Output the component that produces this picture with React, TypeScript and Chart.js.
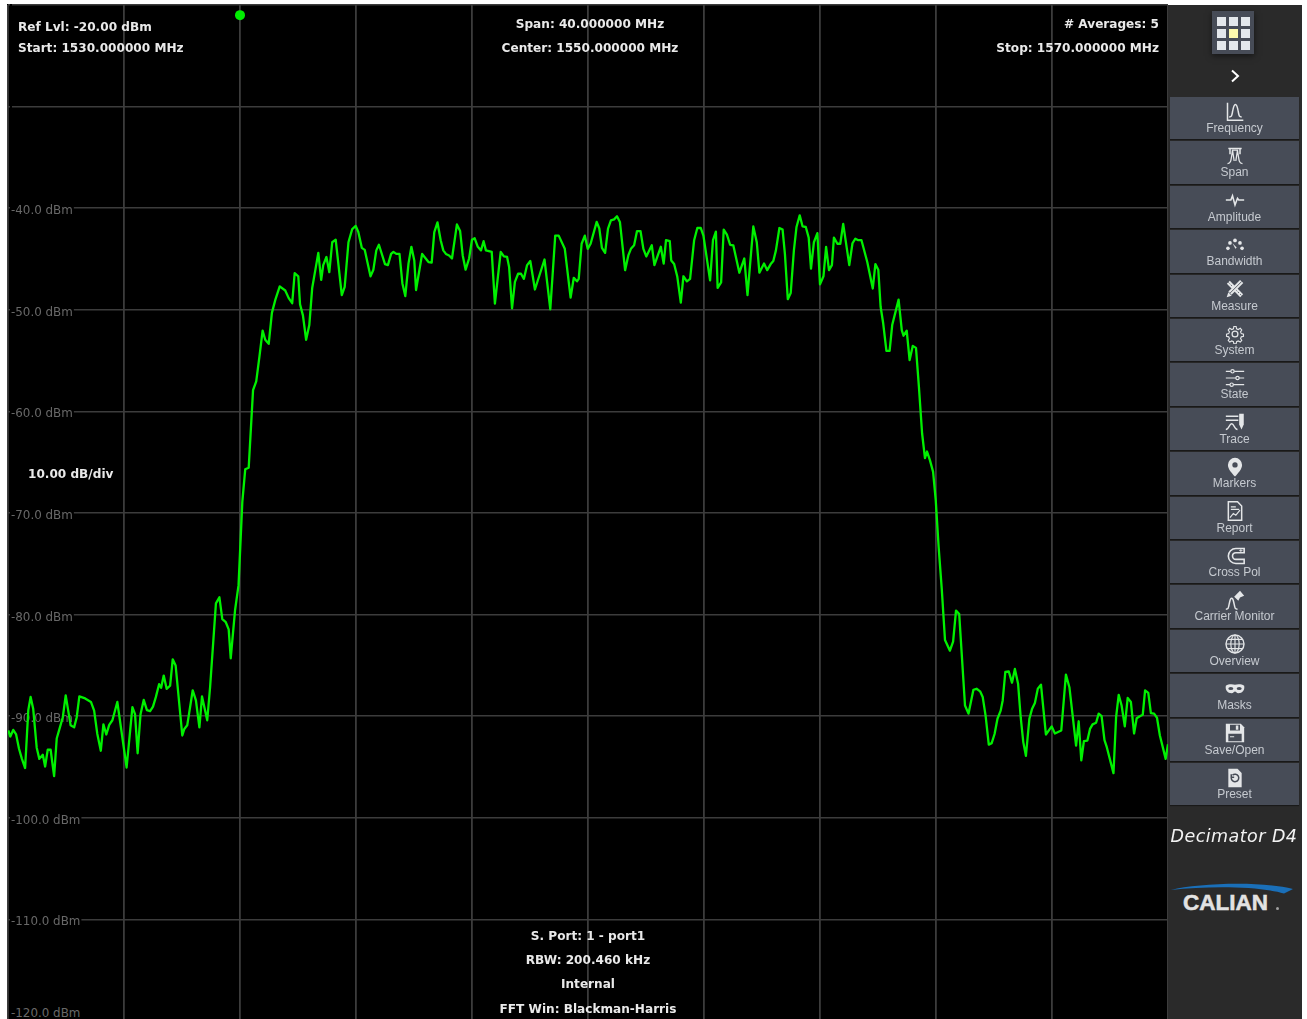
import React, { useEffect, useRef } from "react";
import { Chart, registerables } from "chart.js";

Chart.register(...registerables);

const startFreqMHz = 1530;
const stopFreqMHz = 1570;
const freqStepMHz = 4;
const refLevelDbm = -20;
const bottomLevelDbm = -120;
const levelStepDb = 10;
const unlabelledLevels = [-20, -30, -120];
const markerFreqMHz = [1538];
const markerLevelDbm = [-21];

const traceOffsetMHz = [
  0.01, 0.08, 0.18, 0.28, 0.38, 0.48, 0.59, 0.7, 0.78, 0.87, 0.99, 1.08, 1.2, 1.28, 1.37, 1.47, 1.59, 1.68, 1.79, 1.89,
  1.99, 2.16, 2.28, 2.37, 2.46, 2.66, 2.86, 2.97, 3.08, 3.2, 3.29, 3.39, 3.49, 3.6, 3.77, 4.09, 4.29, 4.38, 4.47, 4.57,
  4.68, 4.79, 4.9, 5.0, 5.1, 5.21, 5.28, 5.37, 5.47, 5.59, 5.68, 5.78, 6.01, 6.08, 6.18, 6.37, 6.48, 6.6, 6.69, 6.87,
  6.97, 7.17, 7.29, 7.39, 7.51, 7.61, 7.68, 7.83, 7.95, 8.08, 8.18, 8.3, 8.45, 8.56, 8.67, 8.78, 8.87, 8.99, 9.1, 9.22,
  9.37, 9.56, 9.68, 9.8, 9.885, 10.01, 10.07, 10.17, 10.28, 10.39, 10.49, 10.6, 10.7, 10.8, 10.87, 10.98, 11.08, 11.18, 11.3, 11.51,
  11.61, 11.74, 11.87, 11.99, 12.08, 12.2, 12.3, 12.5, 12.6, 12.7, 12.79, 13.0, 13.1, 13.21, 13.29, 13.39, 13.5, 13.6, 13.7, 13.81,
  13.91, 14.01, 14.07, 14.28, 14.5, 14.61, 14.7, 14.81, 14.92, 15.01, 15.1, 15.21, 15.31, 15.48, 15.59, 15.68, 15.78, 15.9, 16.0, 16.09,
  16.2, 16.31, 16.4, 16.48, 16.68, 16.79, 16.99, 17.1, 17.21, 17.28, 17.38, 17.48, 17.59, 17.69, 17.79, 17.9, 18.01, 18.17, 18.5, 18.7,
  18.87, 18.99, 19.2, 19.4, 19.51, 19.62, 19.68, 19.78, 19.89, 19.99, 20.09, 20.3, 20.39, 20.48, 20.59, 20.69, 20.79, 20.9, 21.0, 21.1,
  21.28, 21.39, 21.48, 21.59, 21.69, 21.81, 21.91, 22.01, 22.2, 22.29, 22.51, 22.61, 22.69, 22.82, 22.87, 22.97, 23.08, 23.2, 23.29, 23.41,
  23.52, 23.66, 23.77, 23.89, 23.98, 24.21, 24.31, 24.41, 24.47, 24.59, 24.68, 24.79, 24.9, 25.01, 25.22, 25.39, 25.5, 25.7, 25.82, 25.91,
  26.07, 26.18, 26.3, 26.39, 26.48, 26.6, 26.71, 26.79, 26.89, 26.99, 27.1, 27.19, 27.3, 27.4, 27.51, 27.61, 27.69, 27.79, 27.91, 28.0,
  28.12, 28.21, 28.31, 28.41, 28.48, 28.6, 28.7, 28.8, 29.01, 29.12, 29.22, 29.32, 29.43, 29.63, 29.82, 29.91, 30.01, 30.09, 30.18, 30.29,
  30.4, 30.49, 30.71, 30.82, 30.88, 30.99, 31.09, 31.2, 31.31, 31.41, 31.52, 31.62, 31.69, 31.79, 31.9, 31.99, 32.09, 32.2, 32.31, 32.48,
  32.59, 32.69, 32.8, 33.0, 33.12, 33.29, 33.4, 33.52, 33.61, 33.71, 33.82, 33.92, 34.02, 34.12, 34.23, 34.3, 34.39, 34.51, 34.62, 34.72,
  34.83, 34.92, 35.01, 35.1, 35.22, 35.31, 35.41, 35.51, 35.62, 35.79, 35.99, 36.1, 36.32, 36.48, 36.6, 36.83, 36.92, 37.01, 37.1, 37.22,
  37.31, 37.4, 37.52, 37.61, 37.71, 37.81, 37.89, 38.12, 38.21, 38.3, 38.4, 38.51, 38.61, 38.72, 38.83, 38.92, 39.03, 39.13, 39.21, 39.32,
  39.41, 39.52, 39.62, 39.72, 39.92, 40.0,
];

const traceLevelDbm = [
  -91.4, -92.0, -91.35, -91.8, -93.2, -94.2, -95.1, -89.4, -88.1, -89.3, -93.1, -94.2, -93.8, -94.95, -93.3, -93.3, -95.9, -92.2, -91.1, -90.1,
  -87.95, -90.9, -91.1, -90.1, -88.05, -88.25, -88.6, -89.45, -91.75, -93.4, -90.8, -91.8, -90.85, -90.4, -88.6, -95.05, -89.1, -89.8, -93.65, -89.8,
  -88.4, -89.4, -89.5, -89.05, -88.1, -86.85, -87.2, -86.0, -87.3, -87.0, -84.4, -85.0, -91.9, -91.25, -90.9, -87.45, -88.45, -91.1, -88.05, -90.4,
  -87.1, -78.9, -78.3, -80.45, -80.75, -81.45, -84.3, -79.55, -77.1, -68.9, -65.7, -65.55, -57.9, -57.05, -54.6, -52.05, -52.95, -53.35, -50.3, -49.0,
  -47.7, -48.1, -48.85, -49.35, -46.4, -46.7, -49.45, -50.55, -52.95, -51.5, -47.85, -46.05, -44.4, -47.05, -45.6, -44.8, -46.3, -43.35, -43.1, -48.55,
  -47.75, -43.35, -42.05, -41.75, -42.35, -43.9, -44.1, -46.7, -46.05, -44.15, -43.6, -45.5, -45.6, -44.5, -44.3, -44.5, -44.5, -47.4, -48.65, -45.45,
  -43.8, -45.15, -48.05, -44.5, -45.3, -45.35, -42.35, -41.4, -43.15, -44.15, -44.5, -44.65, -44.95, -41.6, -42.25, -44.65, -46.05, -44.95, -43.1, -42.95,
  -43.8, -44.15, -43.25, -44.15, -44.3, -49.4, -44.3, -44.75, -44.8, -45.8, -49.85, -47.25, -46.45, -46.45, -46.95, -45.6, -45.2, -48.0, -45.05, -49.95,
  -42.7, -42.7, -44.0, -48.8, -46.85, -47.2, -46.95, -43.5, -42.7, -44.0, -43.5, -41.35, -42.0, -43.9, -44.4, -42.0, -41.2, -41.1, -40.8, -41.35,
  -46.1, -44.65, -44.0, -43.65, -42.25, -42.25, -44.0, -44.75, -43.65, -45.6, -43.8, -45.45, -43.15, -43.25, -45.15, -45.5, -46.75, -49.3, -46.7, -47.2,
  -46.95, -43.15, -41.95, -41.95, -42.7, -47.1, -43.15, -42.3, -47.85, -47.3, -42.1, -42.6, -43.6, -43.65, -46.35, -44.95, -48.55, -41.8, -43.35, -46.35,
  -45.45, -46.1, -45.5, -45.2, -44.15, -41.95, -42.1, -44.5, -48.95, -48.35, -44.15, -41.85, -40.7, -41.8, -41.85, -42.9, -45.95, -43.35, -42.45, -47.5,
  -46.7, -43.8, -46.1, -45.6, -42.9, -43.5, -43.5, -41.55, -45.6, -43.45, -43.0, -43.15, -43.15, -45.3, -47.9, -45.5, -46.05, -49.7, -51.35, -54.05,
  -54.05, -51.5, -49.0, -52.0, -52.55, -52.05, -54.95, -53.55, -53.75, -57.55, -62.15, -64.6, -63.95, -64.8, -65.95, -68.7, -73.3, -77.55, -82.5, -83.55,
  -82.65, -79.6, -79.95, -88.95, -89.75, -87.4, -87.3, -87.55, -88.1, -89.95, -92.8, -92.65, -91.75, -90.25, -89.45, -88.45, -85.65, -85.6, -86.7, -85.35,
  -86.8, -90.1, -92.55, -93.9, -90.25, -89.3, -88.7, -87.3, -86.9, -91.8, -91.0, -91.7, -91.4, -85.9, -87.15, -92.9, -90.5, -94.35, -92.45, -92.4,
  -91.25, -90.8, -90.65, -89.75, -90.0, -92.35, -93.05, -95.6, -90.1, -87.9, -88.95, -91.0, -88.2, -88.6, -91.7, -90.2, -90.0, -89.85, -87.45, -87.7,
  -89.7, -89.75, -90.15, -91.9, -94.2, -92.75,
];

const menuLabels = [
  "Frequency", "Span", "Amplitude", "Bandwidth", "Measure", "System", "State", "Trace",
  "Markers", "Report", "Cross Pol", "Carrier Monitor", "Overview", "Masks", "Save/Open", "Preset",
];

const INFO = "#e9e9e9";
const ICON = "#e4e6e8";
const BTN = "#474c57";

function MenuIcon({ name }: { name: string }) {
  const s = { fill: "none", stroke: ICON, strokeWidth: 1.4 };
  const f = { fill: ICON, stroke: "none" };
  const body: Record<string, any> = {
    Frequency: <g {...s}><path d="M3 1v21h19" strokeWidth={1.8} /><path d="M5 18c3 0 3-1 4-6 1-6 2-9 3.5-9s2.5 3 3.5 9c1 5 1 6 4 6" strokeWidth={1.8} /></g>,
    Span: <g {...s}><path d="M4 3h16M6 3v7M18 3v7" strokeWidth={1.8} /><path d="M3 21c4 0 4-2 6-16h6c2 14 2 16 6 16M9 5l2 13M15 5l-2 13" strokeWidth={1.5} /></g>,
    Amplitude: <g {...s}><path d="M1 12h6l2-5 3 11 3-8 1.5 2H23" strokeWidth={1.9} /></g>,
    Bandwidth: <g {...f}><circle cx="3.5" cy="16" r="2.2" /><circle cx="6" cy="9.5" r="2.2" /><circle cx="12" cy="6.5" r="2.2" /><circle cx="18" cy="9.5" r="2.2" /><circle cx="20.5" cy="16" r="2.2" /><path d="M9 10l5 5-1.5 1.5z" /></g>,
    Measure: <g fill="none"><path d="M4 4l16 16" stroke={ICON} strokeWidth={5} /><path d="M4 4l16 16" stroke={BTN} strokeWidth={1} strokeDasharray="2 2" /><path d="M20 3L6 17" stroke={ICON} strokeWidth={5.5} /><path d="M20 3L6 17" stroke={BTN} strokeWidth={1} /><path d="M2 22l2-6 4 4z" fill={ICON} /></g>,
    System: <g {...s}><circle cx="12" cy="12" r="3.5" strokeWidth={1.5} /><path d="M10.5 2h3l.6 3 2.2 1 2.7-1.6 2 2.2-1.6 2.6 1 2.3 2.9.7v3l-2.9.6-1 2.2 1.6 2.6-2 2.2-2.7-1.6-2.2 1-.6 3h-3l-.6-3-2.2-1-2.7 1.6-2-2.2 1.6-2.6-1-2.2-2.9-.6v-3l2.9-.7 1-2.3-1.6-2.6 2-2.2 2.7 1.6 2.2-1z" transform="translate(1.2 1.2) scale(.9)" strokeWidth={1.5} /></g>,
    State: <g {...s}><path d="M1 4h22M1 12h22M1 20h22" /><circle cx="9" cy="4" r="2" fill={BTN} /><circle cx="15" cy="12" r="2" fill={BTN} /><circle cx="8" cy="20" r="2" fill={BTN} /></g>,
    Trace: <g {...s}><path d="M1 5h15M1 10h15M1 21c4 0 4-7 7-7s3 7 7 7" strokeWidth={1.8} /><path d="M17 2h5.5v13l-2.7 6L17 15z" fill={ICON} stroke="none" /></g>,
    Markers: <g><path d="M12 1a8.5 8.5 0 0 1 8.5 8.5c0 5-5 10-8.5 14-3.5-4-8.5-9-8.5-14A8.5 8.5 0 0 1 12 1z" fill={ICON} /><circle cx="12" cy="9.5" r="3.2" fill={BTN} /></g>,
    Report: <g {...s}><path d="M4 1h11l5 5v17H4z" strokeWidth={1.8} /><path d="M7 7h6M7 10h10M6 20l4-5 3 2 5-6" /></g>,
    "Cross Pol": <g fill="none" stroke={ICON}><path d="M23 3H13a9 9 0 0 0 0 18h10v-5H13a4 4 0 0 1 0-8h10z" strokeWidth={1.9} /><path d="M17 5.5h4M19 3.5v4" strokeWidth={1} /></g>,
    "Carrier Monitor": <g><path d="M1 23c3 0 3-1 4-6 1-4 1-7 3-7s2 3 3 7c1 5 1 6 4 6" fill="none" stroke={ICON} strokeWidth={1.8} /><path d="M11 8l7-7 5 6-5 2-2 4z" fill={ICON} /></g>,
    Overview: <g {...s}><circle cx="12" cy="12" r="10.8" strokeWidth={1.7} /><ellipse cx="12" cy="12" rx="5" ry="10.8" /><path d="M12 1.2v21.6M1.2 12h21.6M3 6.5h18M3 17.5h18" /></g>,
    Masks: <g><path d="M1 8c3-2 8-2 11-1 3-1 8-1 11 1 1 5-2 9-7 9-2 0-3-2-4-2s-2 2-4 2c-5 0-8-4-7-9z" fill={ICON} /><ellipse cx="7" cy="11.5" rx="3" ry="1.8" fill={BTN} /><ellipse cx="17" cy="11.5" rx="3" ry="1.8" fill={BTN} /></g>,
    "Save/Open": <g><path d="M1 1h18l4 4v18H1z" fill={ICON} /><path d="M6 2h12v7H6zM4 13h16v9H4z" fill={BTN} /><path d="M13 3h3v5h-3zM6 16h5v1H6z" fill={ICON} /></g>,
    Preset: <g><path d="M4 1h11l5 5v17H4z" fill={ICON} /><path d="M7.5 12a4.5 4.5 0 1 0 1.5-3.4M7.5 7.5v3.5H11" fill="none" stroke={BTN} strokeWidth={1.8} /></g>,
  };
  return (
    <svg width="20" height="20" viewBox="0 0 24 24" style={{ position: "absolute", left: 54.5, top: 4.5 }}>
      {body[name]}
    </svg>
  );
}

function Info({ x, y, align, children }: { x: number; y: number; align: "left" | "center" | "right"; children: string }) {
  const tx = align === "left" ? "0" : align === "center" ? "-50%" : "-100%";
  return (
    <div
      style={{
        position: "absolute",
        left: x,
        top: y,
        transform: `translate(${tx}, -50%)`,
        whiteSpace: "nowrap",
        font: "bold 12.1px 'DejaVu Sans'",
        color: INFO,
      }}
    >
      {children}
    </div>
  );
}

export default function App() {
  const ref = useRef<HTMLCanvasElement>(null);

  useEffect(() => {
    const zeroPadding = (s: any) => {
      s.paddingLeft = s.paddingRight = s.paddingTop = s.paddingBottom = 0;
    };
    const chart = new Chart(ref.current!, {
      type: "scatter",
      data: {
        datasets: [
          {
            data: traceOffsetMHz.map((o, i) => ({ x: startFreqMHz + o, y: traceLevelDbm[i] })),
            showLine: true,
            borderColor: "#00f000",
            borderWidth: 2.3,
            borderJoinStyle: "round",
            pointRadius: 0,
            tension: 0,
          },
          {
            data: markerFreqMHz.map((f, i) => ({ x: f, y: markerLevelDbm[i] })),
            pointRadius: 5,
            pointBackgroundColor: "#00ee00",
            pointBorderWidth: 0,
            clip: false,
          },
        ],
      },
      options: {
        animation: false,
        responsive: false,
        layout: { autoPadding: false, padding: { left: 1, top: 1, right: 0, bottom: 1 } },
        plugins: { legend: { display: false }, tooltip: { enabled: false } },
        scales: {
          x: {
            type: "linear",
            min: startFreqMHz,
            max: stopFreqMHz,
            border: { display: false },
            grid: { color: "#3c3c3c", lineWidth: 1.8, drawTicks: false },
            ticks: { display: false, stepSize: freqStepMHz },
            afterFit: (s: any) => { s.height = 0; zeroPadding(s); },
          },
          y: {
            type: "linear",
            min: bottomLevelDbm,
            max: refLevelDbm,
            border: { display: false },
            grid: { color: "#3c3c3c", lineWidth: 1.6, drawTicks: false },
            afterFit: (s: any) => { s.width = 0; zeroPadding(s); },
            ticks: {
              stepSize: levelStepDb,
              mirror: true,
              padding: 3,
              labelOffset: 3,
              color: "#686868",
              font: { family: "DejaVu Sans", size: 11.9 },
              showLabelBackdrop: true,
              backdropColor: "#000000",
              backdropPadding: 1,
              callback: (v: any) => (unlabelledLevels.includes(Number(v)) ? "" : `${Number(v).toFixed(1)} dBm`),
            },
          },
        },
      },
    } as any);
    return () => chart.destroy();
  }, []);

  return (
    <div style={{ position: "absolute", left: 0, top: 0, width: 1307, height: 1019, overflow: "hidden", background: "#fff" }}>
      <div style={{ position: "absolute", left: 7, top: 4, width: 1161, height: 1015, background: "#000", overflow: "hidden" }}>
        <canvas ref={ref} width={1161} height={1018} style={{ display: "block" }} />
      </div>

      <Info x={18} y={26.5} align="left">Ref Lvl: -20.00 dBm</Info>
      <Info x={18} y={47.5} align="left">Start: 1530.000000 MHz</Info>
      <Info x={590} y={23.5} align="center">Span: 40.000000 MHz</Info>
      <Info x={590} y={47.5} align="center">Center: 1550.000000 MHz</Info>
      <Info x={1159} y={23.5} align="right"># Averages: 5</Info>
      <Info x={1159} y={47.5} align="right">Stop: 1570.000000 MHz</Info>
      <Info x={28} y={474} align="left">10.00 dB/div</Info>
      <Info x={588} y={935.5} align="center">S. Port: 1 - port1</Info>
      <Info x={588} y={959.5} align="center">RBW: 200.460 kHz</Info>
      <Info x={588} y={983.5} align="center">Internal</Info>
      <Info x={588} y={1008.5} align="center">FFT Win: Blackman-Harris</Info>
      <div style={{ position: "absolute", left: 11, top: 1013, transform: "translateY(-50%)", font: "11.9px 'DejaVu Sans'", color: "#686868", background: "#000", paddingRight: 1 }}>
        -120.0 dBm
      </div>

      <div style={{ position: "absolute", left: 1168, top: 5, width: 134, height: 1014, background: "#2a2a2a" }}>
        <div style={{ position: "absolute", left: 44, top: 6, width: 42, height: 43, background: BTN, boxShadow: "0 2px 6px rgba(0,0,0,.5)" }}>
          {[0, 1, 2, 3, 4, 5, 6, 7, 8].map((i) => (
            <div
              key={i}
              style={{
                position: "absolute",
                left: 5 + (i % 3) * 12,
                top: 6 + Math.floor(i / 3) * 12,
                width: 8.5,
                height: 8.5,
                background: i === 4 ? "#fdf9ae" : "#e4e8ec",
              }}
            />
          ))}
        </div>
        <svg width="12" height="14" style={{ position: "absolute", left: 61, top: 64 }}>
          <path d="M3 1.5l6 5.5-6 5.5" fill="none" stroke="#fff" strokeWidth="2" />
        </svg>

        {menuLabels.map((label, i) => (
          <div
            key={label}
            style={{
              position: "absolute",
              left: 2,
              top: 92 + i * 44.4,
              width: 129,
              height: 42.4,
              background: BTN,
              boxShadow: "0 1px 1px rgba(0,0,0,.4)",
            }}
          >
            <MenuIcon name={label} />
            <div
              style={{
                position: "absolute",
                left: 0,
                right: 0,
                top: 24,
                textAlign: "center",
                font: "12px 'Liberation Sans'",
                color: "#c6cad0",
                whiteSpace: "nowrap",
              }}
            >
              {label}
            </div>
          </div>
        ))}

        <div style={{ position: "absolute", left: 0, width: 132, top: 821, textAlign: "center", font: "italic 17.5px 'DejaVu Sans'", letterSpacing: 0.45, color: "#f2f2f2", whiteSpace: "nowrap" }}>
          Decimator D4
        </div>
        <svg width="134" height="20" style={{ position: "absolute", left: 0, top: 875 }}>
          <path d="M3 10C30 3 95 1 125 9L116 13.5C90 6 40 6 3 10z" fill="#1a6fb8" />
        </svg>
        <div style={{ position: "absolute", left: 15, top: 885, font: "bold 22.5px 'Liberation Sans'", color: "#e2e2e2", WebkitTextStroke: "0.5px #e2e2e2", whiteSpace: "nowrap" }}>
          CALIAN
        </div>
        <div style={{ position: "absolute", left: 108, top: 902, width: 3, height: 3, borderRadius: 2, background: "#a0a0a0" }} />
      </div>
    </div>
  );
}
